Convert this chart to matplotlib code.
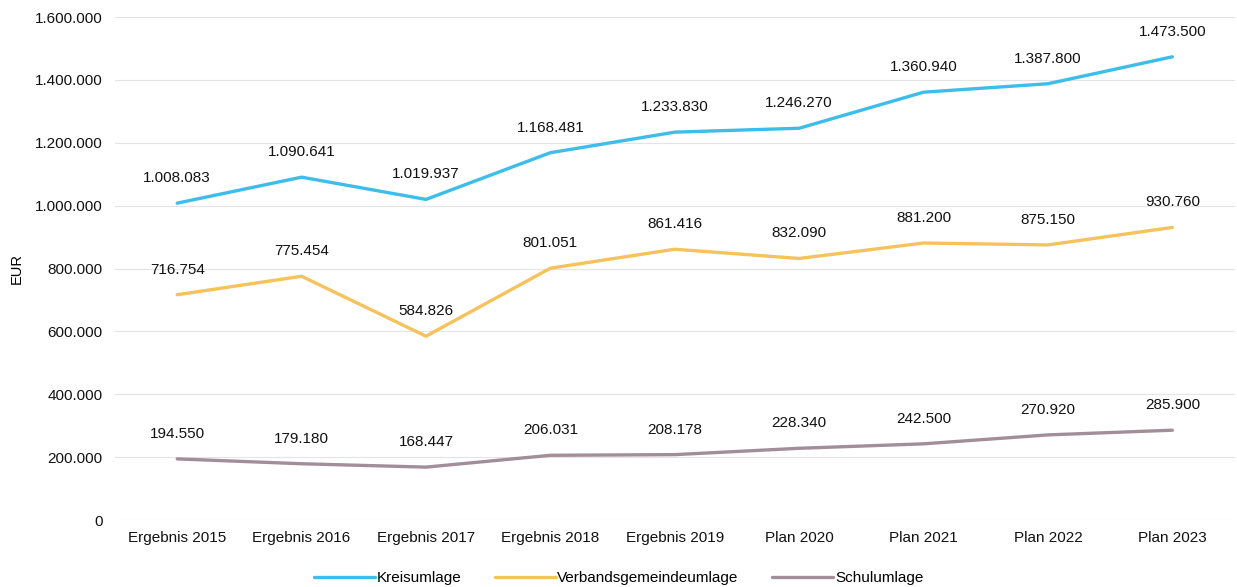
import matplotlib
matplotlib.use('Agg')
import matplotlib.pyplot as plt
from matplotlib.ticker import FuncFormatter

plt.rcParams['font.family'] = ['Liberation Sans', 'DejaVu Sans']

# categories and values
jahre = ['Ergebnis 2015', 'Ergebnis 2016', 'Ergebnis 2017', 'Ergebnis 2018', 'Ergebnis 2019',
         'Plan 2020', 'Plan 2021', 'Plan 2022', 'Plan 2023']
kreisumlage = [1008083, 1090641, 1019937, 1168481, 1233830, 1246270, 1360940, 1387800, 1473500]
verbandsumlage = [716754, 775454, 584826, 801051, 861416, 832090, 881200, 875150, 930760]
schulumlage = [194550, 179180, 168447, 206031, 208178, 228340, 242500, 270920, 285900]


def de_fmt(v, pos=None):
    return f'{int(round(v)):,}'.replace(',', '.')


fig = plt.figure(figsize=(12.37, 5.87), dpi=100)
ax = fig.add_axes([0.093, 0.114, 0.905, 0.857])

x = list(range(len(jahre)))
series = [
    (kreisumlage, '#3dbdea', 'Kreisumlage'),
    (verbandsumlage, '#f5c25c', 'Verbandsgemeindeumlage'),
    (schulumlage, '#a28e98', 'Schulumlage'),
]
for vals, col, name in series:
    ax.plot(x, vals, color=col, lw=2.4, label=name, solid_capstyle='round')
    for xi, v in zip(x, vals):
        ax.annotate(de_fmt(v), (xi, v), xytext=(0, 13), textcoords='offset points',
                    ha='center', va='bottom', fontsize=11, color='#111111')

ax.set_xlim(-0.5, len(jahre) - 0.5)
ax.set_ylim(0, 1600000)
ax.set_yticks(range(0, 1600001, 200000))
ax.yaxis.set_major_formatter(FuncFormatter(de_fmt))
ax.set_xticks(x)
ax.set_xticklabels(jahre)
ax.tick_params(axis='both', length=0, labelsize=11, colors='#111111')
ax.tick_params(axis='y', pad=9)
ax.tick_params(axis='x', pad=8)
ax.grid(axis='y', color='#e4e4e4', lw=0.8)
ax.set_axisbelow(True)
for s in ax.spines.values():
    s.set_visible(False)
ax.set_ylabel('EUR', fontsize=10.5, labelpad=8)

fig.legend(loc='lower center', bbox_to_anchor=(0.5, -0.02), ncol=3, frameon=False,
           fontsize=11, handlelength=4, handletextpad=0.1, columnspacing=2.2)

fig.savefig('out.png', dpi=100)
